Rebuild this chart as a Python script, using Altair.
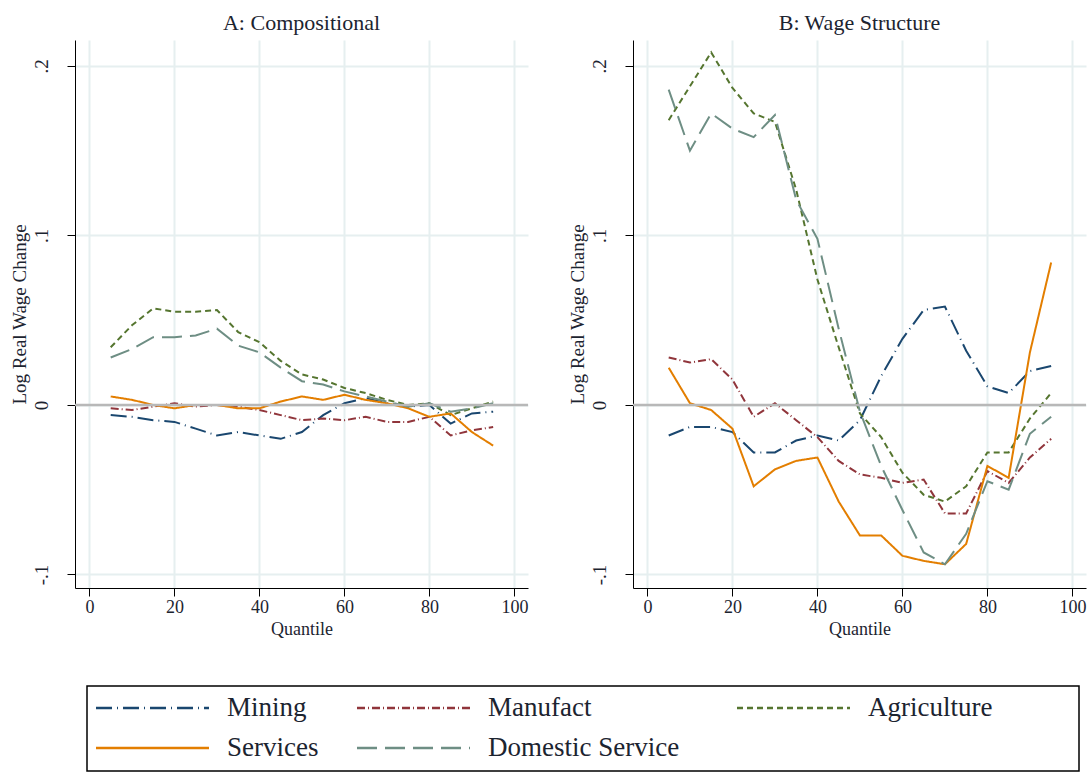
import altair as alt
import pandas as pd

# Quantiles of the wage distribution at which the decomposition is evaluated
quantiles = list(range(5, 100, 5))

sectors = ["Mining", "Manufact", "Agriculture", "Services", "Domestic Service"]
colors = ["#1a476f", "#90353b", "#55752f", "#e37e00", "#6e8e84"]
dashes = [[16, 5, 1, 5], [8, 3, 1, 3], [6, 4], [1, 0], [20, 8]]

# Panel A: compositional effect
comp_mining = [-0.006, -0.007, -0.009, -0.010, -0.014, -0.018, -0.016, -0.018, -0.020, -0.016,
               -0.006, 0.001, 0.004, 0.001, -0.001, 0.000, -0.011, -0.005, -0.004]
comp_manufact = [-0.002, -0.003, -0.001, 0.001, -0.001, 0.000, -0.001, -0.003, -0.006, -0.009,
                 -0.008, -0.009, -0.007, -0.010, -0.010, -0.007, -0.018, -0.015, -0.013]
comp_agri = [0.034, 0.047, 0.057, 0.055, 0.055, 0.056, 0.043, 0.037, 0.026, 0.018,
             0.015, 0.010, 0.007, 0.003, 0.000, 0.001, -0.006, -0.002, 0.002]
comp_services = [0.005, 0.003, 0.000, -0.002, 0.000, 0.000, -0.002, -0.002, 0.002, 0.005,
                 0.003, 0.006, 0.003, 0.001, -0.002, -0.007, -0.005, -0.016, -0.024]
comp_domestic = [0.028, 0.033, 0.040, 0.040, 0.041, 0.045, 0.035, 0.031, 0.022, 0.014,
                 0.012, 0.008, 0.005, 0.002, -0.001, 0.001, -0.004, -0.002, 0.001]

# Panel B: wage structure effect
ws_mining = [-0.018, -0.013, -0.013, -0.016, -0.028, -0.028, -0.021, -0.018, -0.021, -0.009,
             0.017, 0.039, 0.056, 0.058, 0.032, 0.011, 0.007, 0.020, 0.023]
ws_manufact = [0.028, 0.025, 0.027, 0.015, -0.007, 0.001, -0.009, -0.019, -0.033, -0.041,
               -0.043, -0.046, -0.044, -0.064, -0.064, -0.039, -0.046, -0.031, -0.020]
ws_agri = [0.168, 0.188, 0.208, 0.187, 0.172, 0.167, 0.127, 0.074, 0.034, -0.005,
           -0.019, -0.040, -0.053, -0.057, -0.048, -0.028, -0.028, -0.008, 0.007]
ws_services = [0.022, 0.001, -0.003, -0.014, -0.048, -0.038, -0.033, -0.031, -0.057, -0.077,
               -0.077, -0.089, -0.092, -0.094, -0.082, -0.036, -0.043, 0.031, 0.084]
ws_domestic = [0.186, 0.150, 0.172, 0.163, 0.158, 0.171, 0.121, 0.098, 0.045, -0.004,
               -0.036, -0.062, -0.087, -0.094, -0.076, -0.045, -0.050, -0.017, -0.007]

panels = {
    "A: Compositional": [comp_mining, comp_manufact, comp_agri, comp_services, comp_domestic],
    "B: Wage Structure": [ws_mining, ws_manufact, ws_agri, ws_services, ws_domestic],
}

FONT = "Liberation Serif"
TEXT = "#1c2430"

rows = []
for title, series in panels.items():
    for sector, values in zip(sectors, series):
        for q, v in zip(quantiles, values):
            rows.append({"panel": title, "sector": sector, "quantile": q, "value": v})
df = pd.DataFrame(rows)

y_label = ("datum.value == 0 ? '0' : (datum.value < 0 ? '-' : '') + '.' + "
           "round(abs(datum.value) * 10)")


def panel(title):
    sub = df[df.panel == title]
    x = alt.X("quantile:Q",
              scale=alt.Scale(domain=[-3.4, 103.2], nice=False, zero=False),
              axis=alt.Axis(values=[0, 20, 40, 60, 80, 100], title="Quantile",
                            grid=True, gridColor="#e6eff0", gridWidth=2,
                            domainColor="black", tickColor="black", tickSize=8,
                            labelFont=FONT, labelFontSize=18, labelColor=TEXT, labelPadding=2,
                            titleFont=FONT, titleFontSize=18, titleFontWeight="normal",
                            titleColor=TEXT, titlePadding=4))
    y = alt.Y("value:Q",
              scale=alt.Scale(domain=[-0.108, 0.2153], nice=False, zero=False),
              axis=alt.Axis(values=[-0.1, 0, 0.1, 0.2], title="Log Real Wage Change",
                            labelExpr=y_label, labelAngle=270, labelAlign="center",
                            labelBaseline="bottom",
                            grid=True, gridColor="#e6eff0", gridWidth=2,
                            domainColor="black", tickColor="black", tickSize=8,
                            labelFont=FONT, labelFontSize=19, labelColor=TEXT, labelPadding=16,
                            titleFont=FONT, titleFontSize=19, titleFontWeight="normal",
                            titleColor=TEXT, titlePadding=3))
    zero = alt.Chart(pd.DataFrame({"value": [0.0]})).mark_rule(
        color="#b8b8b8", strokeWidth=2.5).encode(y="value:Q")
    lines = alt.Chart(sub).mark_line(strokeWidth=2).encode(
        x=x, y=y,
        color=alt.Color("sector:N", scale=alt.Scale(domain=sectors, range=colors), legend=None),
        strokeDash=alt.StrokeDash("sector:N", scale=alt.Scale(domain=sectors, range=dashes),
                                  legend=None),
        detail="sector:N",
    )
    return alt.layer(lines, zero).properties(
        width=453, height=548,
        title=alt.TitleParams(title, font=FONT, fontSize=22, fontWeight="normal",
                              color=TEXT, anchor="middle", offset=5),
    )


# Hand-built legend box: three columns, two rows, inset from the left edge
INSET = 12
BOX_W, LEG_H = 992, 85
LEG_W = BOX_W + INSET
col_starts = [INSET + 9, INSET + 270, INSET + 650]
row_ys = [22, 62]
leg = []
for i, s in enumerate(sectors):
    c, r = i % 3, i // 3
    leg.append({"sector": s, "x0": col_starts[c], "x1": col_starts[c] + 113,
                "xt": col_starts[c] + 131, "yp": row_ys[r]})
leg_df = pd.DataFrame(leg)
lx = alt.Scale(domain=[0, LEG_W], nice=False, zero=False)
ly = alt.Scale(domain=[0, LEG_H], nice=False, zero=False, reverse=True)
box = alt.Chart(pd.DataFrame({"b": [0]})).mark_rect(
    fill="white", stroke="black", strokeWidth=1.5).encode(
    x=alt.value(INSET), x2=alt.value(LEG_W), y=alt.value(0), y2=alt.value(LEG_H))
leg_lines = alt.Chart(leg_df).mark_rule(strokeWidth=2.5).encode(
    x=alt.X("x0:Q", scale=lx, axis=None), x2="x1:Q",
    y=alt.Y("yp:Q", scale=ly, axis=None),
    color=alt.Color("sector:N", scale=alt.Scale(domain=sectors, range=colors), legend=None),
    strokeDash=alt.StrokeDash("sector:N", scale=alt.Scale(domain=sectors, range=dashes),
                              legend=None),
)
leg_text = alt.Chart(leg_df).mark_text(
    align="left", baseline="middle", font=FONT, fontSize=27, color=TEXT).encode(
    x=alt.X("xt:Q", scale=lx, axis=None),
    y=alt.Y("yp:Q", scale=ly, axis=None),
    text="sector:N",
)
legend = alt.layer(box, leg_lines, leg_text).properties(width=LEG_W, height=LEG_H)

top = alt.hconcat(panel("A: Compositional"), panel("B: Wage Structure"), spacing=38)
chart = alt.vconcat(top, legend, spacing=47).properties(
    padding={"left": 10, "top": 12, "right": 0, "bottom": 0}, background="white"
).configure_view(stroke=None).configure_text(font=FONT)

chart.save("out.html", embed_options={"renderer": "svg", "actions": False})
